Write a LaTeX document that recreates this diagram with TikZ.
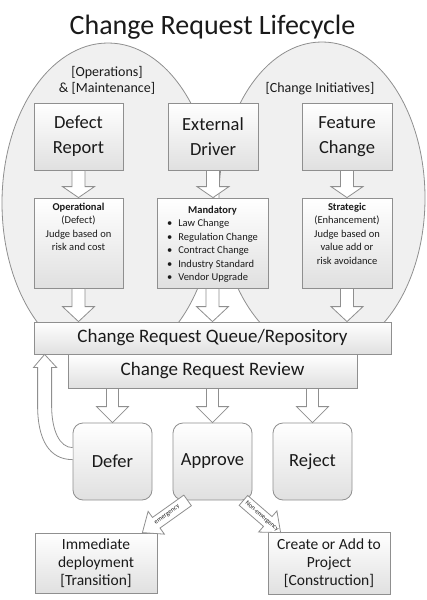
\documentclass[tikz,border=0pt]{standalone}
\usepackage{fontspec}
\setmainfont{Carlito}
\usetikzlibrary{calc}
\definecolor{edge}{HTML}{8F8F8F}
\definecolor{ellfill}{HTML}{F0F0F0}
\definecolor{boxbot}{HTML}{E0E0E0}
\definecolor{txt}{HTML}{1A1A1A}
\tikzset{
 box/.style={draw=edge, line width=0.8pt, top color=white, bottom color=boxbot, inner sep=0pt, align=center, text=txt},
 rbox/.style={box, rounded corners=10pt},
 blockarrow/.style={draw=edge, line width=0.8pt, fill=white, line join=miter},
 ell/.style={draw=edge, line width=0.8pt},
 small/.style={font=\fontsize{10.5}{13.5}\selectfont, align=center, text=txt, inner sep=0pt},
 big/.style={font=\fontsize{18.5}{25}\selectfont},
 mid/.style={font=\fontsize{19}{22}\selectfont},
 dec/.style={font=\fontsize{18.5}{22}\selectfont},
 bot/.style={font=\fontsize{15.5}{18}\selectfont},
 grp/.style={font=\fontsize{14}{16}\selectfont, align=center, text=txt},
 lbl/.style={font=\fontsize{6.5}{7}\selectfont, inner sep=0.5pt, text=txt},
}
\newcommand\blockarr[5]{%
 \coordinate (ba) at #1; \coordinate (bb) at #2;
 \coordinate (bh) at ($(bb)!#5!(ba)$);
 \path[blockarrow] ($(ba)!#3!90:(bb)$) -- ($(bh)!#3!90:(bb)$) -- ($(bh)!#4!90:(bb)$) -- (bb) -- ($(bh)!#4!-90:(bb)$) -- ($(bh)!#3!-90:(bb)$) -- ($(ba)!#3!-90:(bb)$) -- cycle;}
\begin{document}
\begin{tikzpicture}[x=1pt,y=-1pt]
\useasboundingbox (0,0) rectangle (427,600);
% ellipses
\fill[ellfill] (108,203) ellipse [x radius=106pt, y radius=160pt];
\fill[ellfill] (322,198) ellipse [x radius=103pt, y radius=156pt];
\draw[ell] (108,203) ellipse [x radius=106pt, y radius=160pt];
\draw[ell] (322,198) ellipse [x radius=103pt, y radius=156pt];
% title and group labels
\node[font=\fontsize{28}{32}\selectfont, text=txt] (title) at (212.5,27) {Change Request Lifecycle};
\node[grp] (opslbl) at (107,80) {[Operations]\\\& [Maintenance]};
\node[grp] (cilbl) at (320,89) {[Change Initiatives]};
% first row
\node[box, big, minimum width=89pt, minimum height=67pt] (defect) at (78.5,136.5) {Defect\\Report};
\node[box, big, minimum width=90pt, minimum height=67pt] (extdrv) at (213,136.5) {External\\Driver};
\node[box, big, minimum width=90pt, minimum height=67pt] (feature) at (347,136.5) {Feature\\Change};
% second row
\node[box, minimum width=89pt, minimum height=90pt] (oper) at (78.5,243) {};
\node[box, minimum width=111pt, minimum height=90pt] (mand) at (212.5,243) {};
\node[box, minimum width=90pt, minimum height=90pt] (strat) at (347,243) {};
\node[small, anchor=north] (opertxt) at ($(oper.north)+(0,5)$) {\textbf{Operational}\\(Defect)\\Judge based on\\risk and cost};
\node[small, anchor=north] (strattxt) at ($(strat.north)+(0,5)$) {\textbf{Strategic}\\(Enhancement)\\Judge based on\\value add or\\risk avoidance};
\node[small, anchor=north] (mandtxt) at ($(mand.north)+(0,6)$) {\begin{tabular}{@{}l@{}}\multicolumn{1}{c}{\textbf{Mandatory}}\\
\textbullet\hspace{6pt}Law Change\\
\textbullet\hspace{6pt}Regulation Change\\
\textbullet\hspace{6pt}Contract Change\\
\textbullet\hspace{6pt}Industry Standard\\
\textbullet\hspace{6pt}Vendor Upgrade\end{tabular}};
% queue and review
\node[box, mid, minimum width=357pt, minimum height=32pt] (queue) at (212.5,338) {Change Request Queue/Repository};
\node[box, mid, minimum width=289pt, minimum height=34pt] (review) at (212.5,371) {Change Request Review};
% decisions
\node[rbox, dec, minimum width=79pt, minimum height=77pt] (defer) at (112.5,461.5) {Defer};
\node[rbox, dec, minimum width=79pt, minimum height=77pt] (approve) at (212.5,461.5) {Approve};
\node[rbox, dec, minimum width=79pt, minimum height=77pt] (reject) at (312.5,461.5) {Reject};
% outcomes
\node[box, bot, minimum width=122pt, minimum height=60pt] (immed) at (96,563) {Immediate\\deployment\\{[Transition]}};
\node[box, bot, minimum width=122pt, minimum height=62pt] (create) at (329,563) {Create or Add to\\Project\\{[Construction]}};
% block arrows
\blockarr{(defect.south)}{(defect.south |- oper.north)}{6.5pt}{16pt}{11pt}
\blockarr{(extdrv.south)}{(extdrv.south |- mand.north)}{6.5pt}{16pt}{11pt}
\blockarr{(feature.south)}{(feature.south |- strat.north)}{6.5pt}{16pt}{11pt}
\blockarr{(oper.south)}{(oper.south |- queue.north)}{6.5pt}{16pt}{15pt}
\blockarr{(mand.south)}{(mand.south |- queue.north)}{6.5pt}{16pt}{15pt}
\blockarr{(strat.south)}{(strat.south |- queue.north)}{6.5pt}{16pt}{15pt}
\blockarr{(defer.north |- review.south)}{(defer.north)}{6pt}{16pt}{16pt}
\blockarr{(approve.north |- review.south)}{(approve.north)}{6pt}{16pt}{16pt}
\blockarr{(reject.north |- review.south)}{(reject.north)}{6pt}{16pt}{16pt}
\blockarr{($(approve.south west)+(15,0)$)}{($(immed.north east)+(-15,0)$)}{6.5pt}{14pt}{17pt}
\path (ba) -- (bb) node[lbl, sloped, pos=0.45] {emergency};
\blockarr{($(approve.south east)+(-9,0)$)}{($(create.north west)+(13,1)$)}{6.5pt}{14pt}{17pt}
\path (ba) -- (bb) node[lbl, sloped, pos=0.5] {Non-emergency};
% defer return arrow
\path[blockarrow] ($(defer.north west)+(0,37)$) .. controls ($(defer.north west)+(-23,37)$) and ($(queue.south west)+(4,86)$) .. ($(queue.south west)+(4,51)$) -- ($(queue.south west)+(4,13)$) -- ($(queue.south west)+(0,13)$) -- ($(queue.south west)+(11,0)$) -- ($(queue.south west)+(23,13)$) -- ($(queue.south west)+(18,13)$) -- ($(queue.south west)+(18,51)$) .. controls ($(queue.south west)+(18,76)$) and ($(defer.north west)+(-13,25)$) .. ($(defer.north west)+(0,25)$);
\end{tikzpicture}
\end{document}
